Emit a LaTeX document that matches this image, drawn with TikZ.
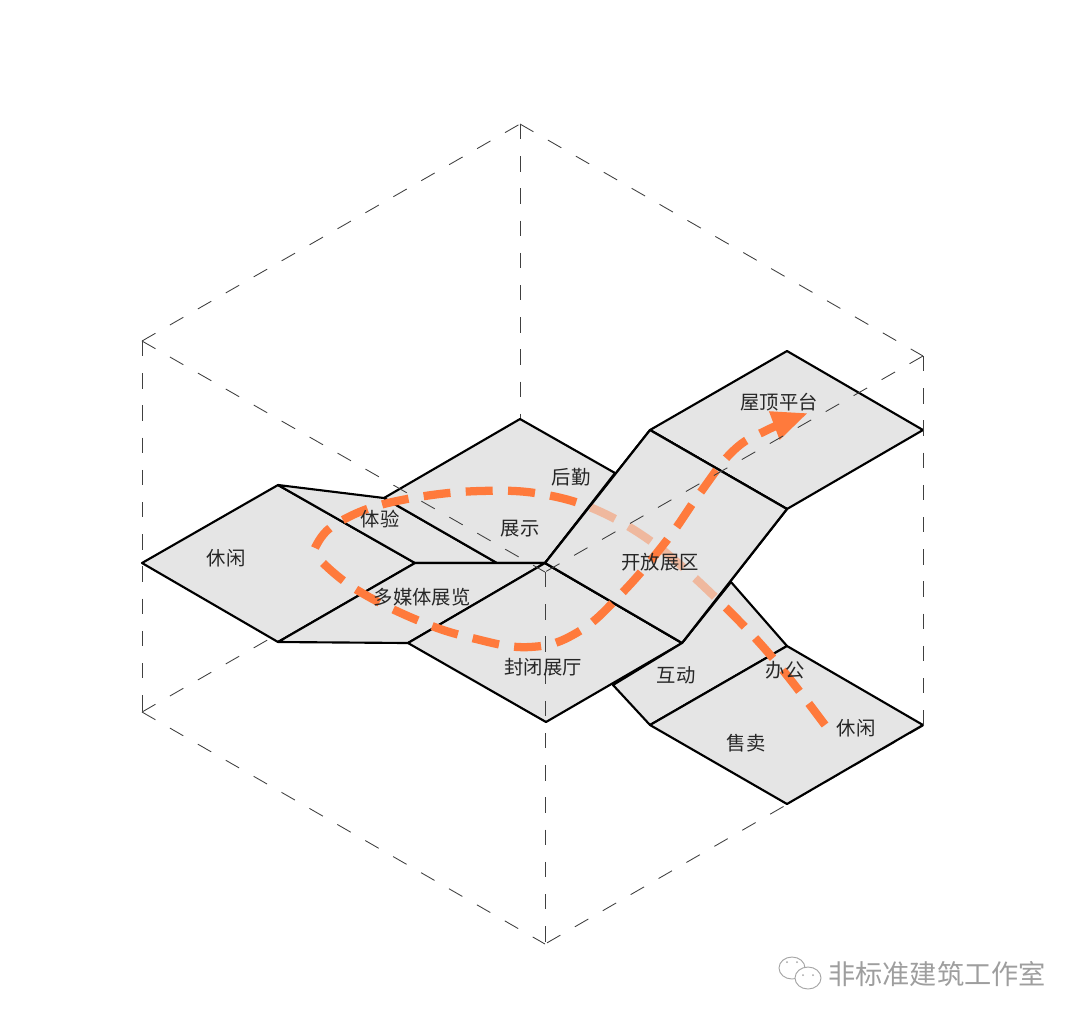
\documentclass[tikz,border=0pt]{standalone}
\usepackage{fontspec}
\setmainfont{Noto Sans CJK SC}
\usetikzlibrary{arrows.meta}
\definecolor{floorgray}{HTML}{E5E5E5}
\definecolor{routeorange}{HTML}{FF7A3C}
\tikzset{
  floor/.style={draw=black,line width=1.6pt,fill=floorgray,line join=round},
  frame/.style={draw=black!75,line width=0.65pt,dash pattern=on 11.6pt off 12.55pt},
  route/.style={draw=routeorange,line width=6.2pt,dash pattern=on 20.25pt off 11.5pt},
  room/.style={font=\fontsize{14.5}{15}\selectfont,text=black!85,inner sep=0pt},
}
\begin{document}
\begin{tikzpicture}[x=0.75pt,y=-0.75pt]
\useasboundingbox (0,0) rectangle (1080,1022);
% box corners
\coordinate (topback) at (520,124);
\coordinate (topleft) at (142,341);
\coordinate (topright) at (923,356);
\coordinate (topfront) at (545,572);
\coordinate (botback) at (520,495);
\coordinate (botleft) at (142,712);
\coordinate (botright) at (923,726);
\coordinate (botfront) at (545,944);
% box edges behind the floors
\draw[frame] (topback) -- (botback);
\draw[frame] (botleft) -- (botback);
\draw[frame] (botright) -- (botback);
\draw[frame] (botright) -- (botfront);
% floor plates
\draw[floor] (142,563) -- (278,485) -- (415,563) -- (278,642) -- cycle;
\draw[floor] (278,485) -- (384,498) -- (497,563) -- (415,563) -- cycle;
\draw[floor] (384,498) -- (520,419) -- (615,473) -- (545,563) -- (497,563) -- cycle;
\draw[floor] (278,642) -- (415,563) -- (545,563) -- (408,643) -- cycle;
\draw[floor] (408,643) -- (545,563) -- (682,643) -- (546,722) -- cycle;
\draw[floor] (613,685) -- (682,643) -- (731,582) -- (787,646) -- (650,725) -- cycle;
\draw[floor] (650,725) -- (787,646) -- (923,725) -- (787,804) -- cycle;
\draw[floor] (650,430) -- (787,351) -- (923,430) -- (787,509) -- cycle;
\draw[floor] (545,563) -- (650,430) -- (787,509) -- (682,643) -- cycle;
% route, first part goes under the open hall
\draw[route] plot[smooth,tension=0.6] coordinates {(825,725) (772,657) (715,597) (652,542) (592,508) (535,493) (480,491) (425,496) (370,508) (330,528) (315,548)};
\fill[floorgray,opacity=0.58] (545,563) -- (650,430) -- (787,509) -- (682,643) -- cycle;
\draw[floor,fill=none] (545,563) -- (650,430) -- (787,509) -- (682,643) -- cycle;
\draw[route,-{Triangle[length=27pt,width=21pt]}] plot[smooth,tension=0.7] coordinates {(323,563) (357,590) (417,620) (472,638) (530,647) (578,632) (622,593) (667,540) (700,493) (733,451) (765,431) (808,413)};
% box edges in front
\draw[frame] (topleft) -- (topback);
\draw[frame] (topback) -- (topright);
\draw[frame] (topleft) -- (topfront);
\draw[frame] (topright) -- (topfront);
\draw[frame] (topleft) -- (botleft);
\draw[frame] (topright) -- (botright);
\draw[frame] (topfront) -- (botfront);
\draw[frame] (botleft) -- (botfront);
% rooms
\node[room] (xiuxianleft) at (226,558) {休闲};
\node[room] (tiyan) at (380,519) {体验};
\node[room] (zhanshi) at (520,529) {展示};
\node[room] (houqin) at (571,477) {后勤};
\node[room] (duomeiti) at (422,597) {多媒体展览};
\node[room] (fengbi) at (543,667) {封闭展厅};
\node[room] (kaifang) at (660,562) {开放展区};
\node[room] (wuding) at (779,402) {屋顶平台};
\node[room] (hudong) at (676,675) {互动};
\node[room] (bangong) at (785,670) {办公};
\node[room] (shoumai) at (746,743) {售卖};
\node[room] (xiuxianright) at (856,728) {休闲};
% watermark
\draw[black!35,line width=0.7pt,fill=white] (792,968) ellipse (13 and 11);
\draw[black!35,line width=0.7pt,fill=white] (808,978) ellipse (13 and 11);
\fill[black!35] (787,962) circle (1) (797,962) circle (1) (803,975) circle (1) (813,975) circle (1);
\node[font=\fontsize{20.4}{21}\selectfont,text=black!38,inner sep=0pt] (mark) at (937,974) {非标准建筑工作室};
\end{tikzpicture}
\end{document}
